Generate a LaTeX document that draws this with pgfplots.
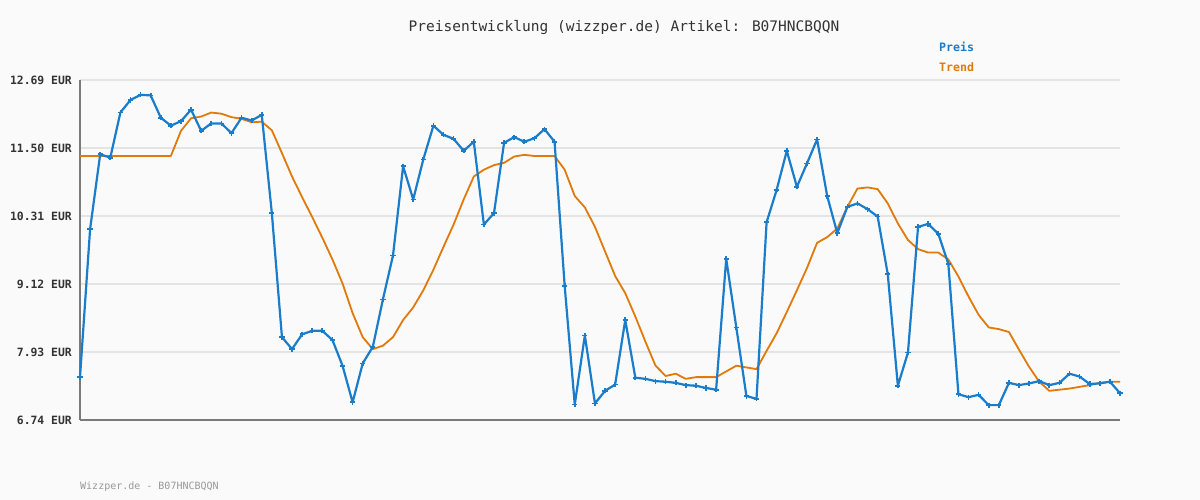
\documentclass[border=0pt]{standalone}
\usepackage{pgfplots}
\pgfplotsset{compat=1.18}
\usepackage{fontspec}
\newfontfamily\dmono{DejaVu Sans Mono}
\definecolor{bgc}{HTML}{FAFAFA}
\definecolor{preis}{HTML}{1A7DCB}
\definecolor{trend}{HTML}{E07A0A}
\definecolor{gridc}{HTML}{E4E4E4}
\definecolor{axc}{HTML}{7A7A7A}
\definecolor{txt}{HTML}{333333}
\pgfplotstableread{
i p t
0 7.49 11.36
1 10.08 11.36
2 11.39 11.36
3 11.33 11.36
4 12.12 11.36
5 12.34 11.36
6 12.43 11.36
7 12.42 11.36
8 12.03 11.36
9 11.89 11.36
10 11.97 11.80
11 12.17 12.02
12 11.80 12.05
13 11.93 12.12
14 11.93 12.10
15 11.76 12.04
16 12.03 12.01
17 11.98 11.95
18 12.08 11.96
19 10.36 11.81
20 8.19 11.41
21 7.98 11.00
22 8.24 10.64
23 8.30 10.29
24 8.30 9.93
25 8.14 9.55
26 7.69 9.13
27 7.05 8.61
28 7.73 8.19
29 8.02 7.98
30 8.85 8.04
31 9.62 8.19
32 11.18 8.49
33 10.60 8.71
34 11.30 9.01
35 11.89 9.37
36 11.73 9.77
37 11.66 10.16
38 11.45 10.60
39 11.61 11.00
40 10.16 11.12
41 10.36 11.20
42 11.59 11.24
43 11.69 11.35
44 11.61 11.38
45 11.67 11.36
46 11.83 11.36
47 11.61 11.36
48 9.09 11.12
49 7.01 10.66
50 8.22 10.46
51 7.03 10.12
52 7.25 9.69
53 7.36 9.26
54 8.49 8.96
55 7.48 8.55
56 7.46 8.11
57 7.42 7.69
58 7.41 7.51
59 7.39 7.55
60 7.35 7.46
61 7.34 7.49
62 7.30 7.49
63 7.27 7.49
64 9.56 7.59
65 8.36 7.69
66 7.16 7.66
67 7.11 7.63
68 10.20 7.95
69 10.77 8.26
70 11.45 8.63
71 10.82 9.01
72 11.23 9.40
73 11.65 9.84
74 10.66 9.94
75 10.01 10.09
76 10.47 10.47
77 10.53 10.79
78 10.43 10.81
79 10.30 10.78
80 9.29 10.53
81 7.34 10.18
82 7.92 9.89
83 10.12 9.73
84 10.17 9.67
85 10.00 9.67
86 9.47 9.55
87 7.19 9.25
88 7.14 8.90
89 7.18 8.58
90 7.00 8.36
91 7.00 8.33
92 7.39 8.28
93 7.35 7.97
94 7.38 7.67
95 7.42 7.41
96 7.35 7.25
97 7.39 7.27
98 7.55 7.29
99 7.50 7.32
100 7.37 7.35
101 7.38 7.39
102 7.41 7.41
103 7.21 7.41
}\data
\begin{document}
\begin{tikzpicture}[x=1bp,y=1bp]
\fill[bgc] (0,0) rectangle (1200,500);
\useasboundingbox (0,0) rectangle (1200,500);
\begin{axis}[
  at={(80bp,80bp)}, anchor=south west,
  scale only axis, width=1040bp, height=340bp,
  xmin=0, xmax=103, ymin=6.74, ymax=12.69,
  axis x line=bottom, axis y line=left,
  axis line style={-, draw=axc, line width=2.2bp},
  xtick=\empty,
  ytick={6.74,7.93,9.12,10.31,11.50,12.69},
  yticklabels={6.74 EUR,7.93 EUR,9.12 EUR,10.31 EUR,11.50 EUR,12.69 EUR},
  yticklabel style={font=\dmono\bfseries\fontsize{11.4bp}{13bp}\selectfont, text=txt, inner sep=0pt, xshift=-8bp},
  major tick length=0pt,
  ymajorgrids, major grid style={draw=gridc, line width=2bp},
  clip=false,
]
\addplot[trend, line width=1.8bp, line join=round, no markers] table[x=i,y=t] {\data};
\addplot[preis, line width=2.2bp, line join=round, mark=+, mark size=2.6bp, mark options={line width=1.7bp}] table[x=i,y=p] {\data};
\end{axis}
\node[font=\dmono\fontsize{14.5bp}{17bp}\selectfont, text=txt] at (624,472) {Preisentwicklung (wizzper.de) Artikel: B07HNCBQQN};
\node[font=\dmono\bfseries\fontsize{11.6bp}{13bp}\selectfont, text=preis, anchor=west, inner sep=0pt] at (939,453) {Preis};
\node[font=\dmono\bfseries\fontsize{11.6bp}{13bp}\selectfont, text=trend, anchor=west, inner sep=0pt] at (939,433) {Trend};
\node[font=\dmono\fontsize{10bp}{12bp}\selectfont, text=black!40, anchor=west, inner sep=0pt] at (80,13) {Wizzper.de - B07HNCBQQN};
\end{tikzpicture}
\end{document}
